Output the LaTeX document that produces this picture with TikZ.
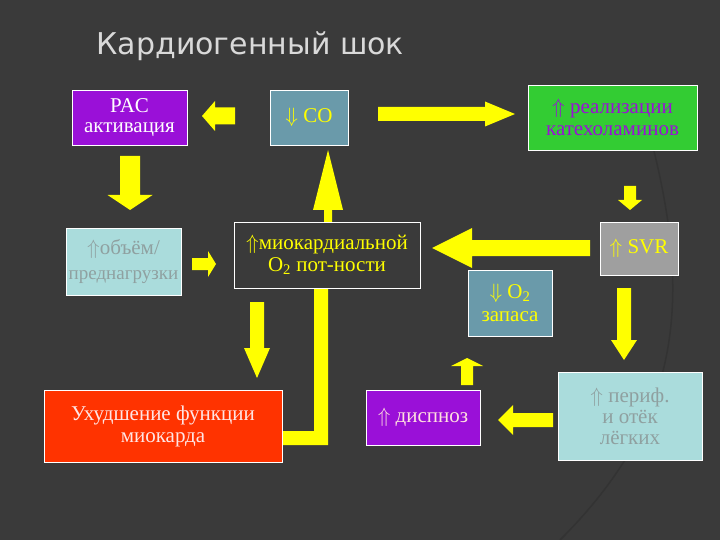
\documentclass[tikz,border=0pt]{standalone}
\usepackage{fontspec}
\setmainfont{Liberation Serif}
\newfontfamily\titlefont{DejaVu Sans}
\definecolor{bg}{HTML}{3A3A3A}
\definecolor{ylw}{HTML}{FFFF00}
\definecolor{purp}{HTML}{9A10D8}
\definecolor{steel}{HTML}{6A9AAA}
\definecolor{grn}{HTML}{33CC33}
\definecolor{lcyan}{HTML}{AADCDC}
\definecolor{red1}{HTML}{FF3300}
\definecolor{gtext}{HTML}{8FA0A0}
\newcommand\barr[7]{\begin{scope}[shift={(#1,#2)},rotate=#3]
\fill[ylw] (0,-#5/2)--(#4-#7,-#5/2)--(#4-#7,-#6/2)--(#4,0)--(#4-#7,#6/2)--(#4-#7,#5/2)--(0,#5/2)--cycle;\end{scope}}
\tikzset{bx/.style={draw=white,line width=0.8pt,inner sep=0pt,align=center,font=\fontsize{21}{23}\selectfont}}
\begin{document}
\begin{tikzpicture}[x=1pt,y=-1pt]
\fill[bg] (0,0) rectangle (720,540);
\useasboundingbox (0,0) rectangle (720,540);
\draw[black!80,line width=1.5pt] (640,100) .. controls (700,300) and (680,420) .. (560,540);
\node[font=\titlefont\fontsize{30}{34}\selectfont,text=gray!30,anchor=west] (title) at (93,46) {Кардиогенный шок};
% L bar and up arrow behind box
\fill[ylw] (282,445) -- (328,445) -- (328,288) -- (314,288) -- (314,431) -- (282,431) -- cycle;
\barr{328}{230}{90}{80}{8}{30}{60}
\node[bx,fill=purp,text=white,minimum width=115,minimum height=55] (ras) at (129.5,117.5) {PAC\\[-3pt]активация};
\node[bx,fill=steel,text=ylw,minimum width=78,minimum height=55] (co) at (309,117.5) {$\Downarrow$ CO};
\node[bx,fill=grn,text=purp,minimum width=169,minimum height=65] (kat) at (612.5,117.5) {$\Uparrow$ реализации\\[-1pt]катехоламинов};
\node[bx,fill=lcyan,text=gtext,minimum width=115,minimum height=67] (vol) at (123.5,261.5) {$\Uparrow$объём/\\[2pt]{\fontsize{19}{21}\selectfont преднагрузки}};
\node[bx,fill=bg,text=ylw,minimum width=186,minimum height=66] (mio) at (327,255) {$\Uparrow$миокардиальной\\[-1pt]O\textsubscript{2} пот-ности};
\node[bx,fill=gray!75,text=ylw,minimum width=78,minimum height=53] (svr) at (639,248.5) {$\Uparrow$ SVR};
\node[bx,fill=steel,text=ylw,minimum width=84,minimum height=66] (o2) at (510,303) {$\Downarrow$ O\textsubscript{2}\\[0pt]запаса};
\node[bx,fill=red1,text=pink!40,minimum width=238,minimum height=72] (uhud) at (163,426) {Ухудшение функции\\[-1pt]миокарда};
\node[bx,fill=purp,text=pink!50,minimum width=114,minimum height=55] (disp) at (423,417.5) {$\Uparrow$ диспноз};
\node[bx,fill=lcyan,text=gtext,minimum width=144,minimum height=88] (per) at (630,416) {$\Uparrow$ периф.\\[-2pt]и отёк\\[-2pt]лёгких};
% arrows
\barr{235}{116}{180}{33}{17}{30}{13}
\barr{378}{114}{0}{137}{14}{25}{30}
\barr{130}{156}{-90}{54}{20}{45}{15}
\barr{192}{264}{0}{24}{12}{26}{8}
\barr{630}{186}{-90}{24}{12}{24}{10}
\barr{590}{248}{180}{158}{16}{40}{40}
\barr{624}{288}{-90}{72}{14}{26}{20}
\barr{553}{420}{180}{55}{14}{30}{15}
\barr{467}{385}{90}{27}{12}{32}{8}
\barr{257}{302}{-90}{76}{14}{26}{30}
\end{tikzpicture}
\end{document}
